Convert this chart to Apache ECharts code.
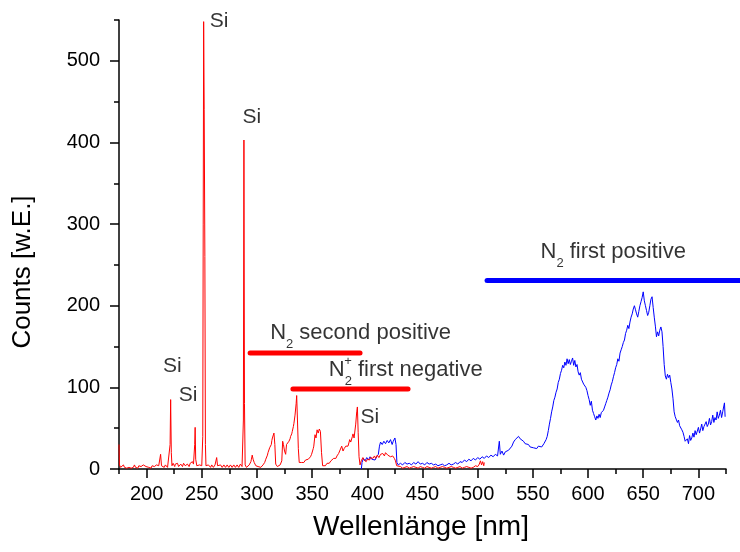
<!DOCTYPE html>
<html><head><meta charset="utf-8">
<script src="https://cdn.jsdelivr.net/npm/echarts@6/dist/echarts.min.js"></script>
<style>html,body{margin:0;padding:0;background:#fff}#c{width:740px;height:552px}</style>
</head><body><div id="c"></div>
<script>
const FONT = 'Liberation Sans, Arial, sans-serif';
const xMajorTicks = [200,250,300,350,400,450,500,550,600,650,700];
const xMinorTicks = [175,225,275,325,375,425,475,525,575,625,675,725];
const yMajorTicks = [0,100,200,300,400,500];
const yMinorTicks = [50,150,250,350,450,550];

const redSpectrum = [
[175.0,30],[175.4,5],[176.5,2],[177,4],[178,2],[179,5],[180,2],[181,4],[182,1],[183,3],[184,2],[185,4],[186,1],[187,3],[188,2],[189,5],[190,2],[191,3],[192,1],[193,4],[194,2],[195,3],[196,2],[197,5],[198.5,6],[199.5,3],[200,2],[201,4],[202,2],[203,3],[204,1],[205,4],[206,2],[207,3],[208,2],[209,5],[210,3],[211,4],[211.8,5],[212.7,18],[213.5,4],[214.5,2],[215,4],[216,2],[217,5],[218,3],[219,2],[220,4],[220.5,3],[221.3,30],[221.8,85],[222.4,20],[223,4],[224,7],[224.5,5],[225.5,3],[226,6],[227,4],[228,7],[229,3],[229.5,5],[230.5,3],[231,6],[232,4],[232.5,3],[233.5,7],[234,8],[235,4],[235.5,6],[236.5,3],[237,6],[238,4],[238.5,3],[239.5,7],[240,5],[241,7],[241.5,9],[242.5,6],[243.6,30],[244,51],[244.5,12],[245.5,4],[246.5,6],[247,3],[248,5],[248.5,4],[249.5,6],[250,4],[250.9,40],[251.3,300],[251.7,548],[252.2,440],[252.8,260],[253.3,30],[253.8,4],[254.5,6],[255,3],[256,5],[256.5,6],[257.5,3],[258,2],[259,5],[259.5,4],[260.5,2],[261,3],[262,5],[262.5,5],[263.5,14],[264.3,4],[265,2],[266,3],[267,5],[267.5,4],[268.5,2],[269,3],[270,5],[270.5,4],[271.5,2],[272,3],[273,5],[273.5,4],[274.5,2],[275,3],[276,5],[276.5,4],[277.5,2],[278,3],[279,5],[279.5,4],[280.5,2],[281,3],[282,5],[282.5,4],[283.5,2],[284,3],[285,6],[285.5,4],[286.5,3],[287,4],[287.7,60],[288.2,403],[288.7,80],[289.3,5],[290,3],[290.5,2],[291.5,4],[292,3],[293,5],[293.5,6],[294.5,9],[295,12],[295.7,17],[296.5,12],[297.5,8],[298,7],[299,4],[299.5,3],[300.5,2],[301,3],[302,2],[302.5,4],[303.5,2],[304,3],[305,4],[305.5,5],[306.5,7],[307,8],[308,12],[308.5,14],[309.5,17],[310,20],[311,22],[311.5,26],[312.5,28],[313,30],[313.5,35],[314,38],[315,40],[315.4,44],[316.2,30],[317,6],[318,4],[318.5,3],[319.5,2],[320,4],[321,5],[321.5,6],[322.5,10],[323.3,34],[324,30],[325,22],[326,18],[326.8,30],[327.8,28],[328.5,31],[329,34],[330,37],[330.5,40],[331.5,43],[332,46],[333,52],[333.5,56],[334.5,66],[335.5,80],[336,90],[336.7,60],[337.5,25],[338.3,8],[339,7],[339.5,6],[340.5,8],[341,9],[342,7],[342.5,8],[343.5,10],[344,11],[345,9],[345.5,10],[346.5,12],[347,13],[348,14],[348.5,15],[349.5,18],[350,20],[351,25],[351.5,28],[352.6,42],[353.5,38],[354.5,48],[355.5,44],[356.5,49],[357.5,46],[358.5,20],[359.5,4],[360.5,5],[361,6],[362,4],[362.5,5],[363.5,7],[364,8],[365,6],[365.5,7],[366.5,9],[367,10],[368,12],[368.5,11],[369.5,13],[370,14],[371,12],[371.5,13],[372.5,16],[373,17],[374,19],[374.5,20],[375.5,18],[376.8,28],[378,22],[379,25],[379.5,24],[380.5,28],[381,30],[382,27],[382.5,28],[383.5,33],[384,36],[385,33],[385.5,34],[386.5,40],[387,43],[388,38],[388.5,40],[389.5,55],[390.4,70],[391,76],[391.7,45],[392.5,15],[393.4,5],[394.5,10],[395.5,12],[396,14],[397,11],[397.5,12],[398.5,10],[399,9],[400,12],[400.5,13],[401.5,10],[402,11],[403,14],[403.5,15],[404.5,12],[405,13],[406,15],[406.5,16],[407.5,13],[408,14],[409,17],[409.5,18],[410.5,14],[411,15],[412,18],[412.5,17],[413.5,20],[414,19],[415,17],[415.5,16],[416.5,20],[417,21],[418,18],[418.5,17],[419.5,19],[420,18],[421,15],[421.5,14],[422.5,17],[423,16],[424,14],[424.5,13],[425.5,10],[426.6,4],[428,2],[430,3],[432,1],[434,2],[436,3],[438,1],[440,2],[442,3],[444,2],[446,1],[448,3],[450,2],[452,1],[454,3],[456,2],[458,1],[460,2],[462,3],[464,1],[466,2],[468,3],[470,2],[472,1],[474,2],[476,3],[478,2],[480,1],[482,2],[484,3],[486,1],[488,2],[490,3],[492,2],[494,1],[496,2],[498,4],[500,3],[501.5,6],[502.5,10],[503.5,5],[504.5,9],[505.5,4],[506,8]
];

const blueSpectrum = [
[394.6,0],[395.2,8],[396.5,13],[398,10],[399.5,14],[401,11],[402.5,15],[404,12],[405.5,14],[407,11],[408.5,15],[410,18],[411,28],[412,33],[413.5,30],[415,34],[416.5,31],[418,35],[419.5,32],[421,36],[422.5,30],[423.5,34],[425,38],[426,30],[426.8,8],[428,5],[430,7],[432,5],[434,8],[436,6],[438,7],[440,5],[442,8],[444,6],[446,9],[448,6],[450,7],[452,5],[454,8],[456,6],[458,7],[460,5],[462,6],[464,4],[466,5],[468,6],[470,4],[472,5],[474,7],[476,5],[478,6],[480,8],[482,6],[484,9],[486,8],[488,11],[490,9],[492,12],[494,10],[496,13],[498,11],[500,14],[502,12],[504,15],[506,13],[508,16],[510,14],[512,17],[514,15],[516,18],[518,16],[519.6,34],[520.5,18],[522,22],[523.5,17],[525,21],[526.5,19],[528,23],[529.5,22],[531,28],[532.5,33],[534,36],[535.5,38],[537,40],[538.5,37],[540,36],[541.5,34],[543,31],[544.5,29],[546,30],[547.5,27],[549,28],[550.5,26],[552,27],[553.5,25],[555,28],[556.5,26],[558,27],
[559,28],[560,31],[561,30],[562,36],[563,40],[564,47],[565,55],[566,62],[567,70],[568,76],[569,84],[570,88],[571,94],[572,98],[573,106],[574,110],[575,117],[576,121],[577,127],[578,124],[579,131],[580,127],[581,135],[582,129],[583,134],[584,128],[585,132],[586,136],[587,127],[588,133],[589,125],[590,128],[591,119],[592,115],[593,118],[594,110],[595,112],[596,104],[597,106],[598,100],[599,96],[600,90],[601,85],[602,78],[603,83],[604,72],[605,68],[606,64],[607,60],[608,65],[609,62],[610,67],[611,63],[612,69],[613,67],[614,72],[615,76],[616,80],[617,84],[618,88],[619,93],[620,97],[621,103],[622,107],[623,113],[624,118],[625,124],[626,128],[627,135],[628,132],[629,142],[630,146],[631,150],[632,155],[633,158],[634,166],[635,170],[636,176],[637,172],[638,180],[639,186],[640,190],[641,196],[642,200],[643,195],[644,190],[645,186],[646,193],[647,200],[648,205],[649,210],[650,217],[651,206],[652,200],[653,194],[654,188],[655,192],[656,200],[657,208],[658,211],[659,198],[660,186],[661,175],[662,162],[663,168],[664,163],[665,170],[666,174],[667,168],[668,150],[669,128],[670,114],[671,110],[672,116],[673,112],[674,115],[675,106],[676,98],[677,86],[678,70],[679,64],[680,62],[681,57],[682,60],[683,53],[684,55],[685,48],[686,45],[687,40],[688,34],[689,32],[690,37],[691,31],[692,41],[693,35],[694,38],[695,44],[696,39],[697,47],[698,42],[699,44],[700,51],[701,44],[702,49],[703,55],[704,47],[705,52],[706,50],[707,58],[708,52],[709,55],[710,62],[711,54],[712,58],[713,66],[714,57],[715,63],[716,60],[717,70],[718,62],[719,66],[720,72],[721,63],[722,70],[723,68],[723.6,81],[724.2,64]
];

// band marker lines [start, end] in data units
const bandSecondPositive = [[293.8,142],[393.4,142]];
const bandFirstNegative = [[332.6,98],[436.9,98]];
const bandFirstPositive = [[508.5,231],[737.6,231]];

// "Si" line labels: [x, y] = left edge / vertical middle of the text
const siLabels = [[256.7,548],[286.4,431],[214.5,126],[228.7,91],[393.4,64]];

// band labels: [x, y] = top-left of the text box
const bandLabels = [
  {pos:[312.4,180], tail:' second positive'},
  {pos:[365.5,134], tail:' first negative'},
  {pos:[557.4,279], tail:' first positive'}
];
const plusLabel = [382.5,131.7];

const chart = echarts.init(document.getElementById('c'), null, {renderer:'canvas'});

const tickStyle = {color:'#000', width:1.5};
const richStyles = {
  a: {fontSize:22, fontFamily:FONT, color:'#000', lineHeight:23, verticalAlign:'top'},
  sub: {fontSize:13, fontFamily:FONT, color:'#000', lineHeight:13, padding:[16,0,0,0], verticalAlign:'top'}
};
const hiddenAxis = {show:false, type:'value'};

const option = {
  animation:false,
  grid:[
    {left:119, right:14, top:20, bottom:83, containLabel:false},
    {left:119, right:0, top:20, bottom:83, containLabel:false}
  ],
  xAxis:[
    {type:'value', gridIndex:0, min:175, max:725, position:'bottom',
     axisLine:{onZero:false, lineStyle:tickStyle},
     axisTick:{customValues:xMajorTicks, length:9, lineStyle:tickStyle},
     axisLabel:{customValues:xMajorTicks, color:'#000', fontSize:20, fontFamily:FONT, margin:15},
     splitLine:{show:false}},
    {type:'value', gridIndex:0, min:175, max:725, position:'bottom',
     axisLine:{show:false, onZero:false},
     axisTick:{customValues:xMinorTicks, length:5, lineStyle:tickStyle},
     axisLabel:{show:false}, splitLine:{show:false}},
    // wider copy of the x scale (same px per nm) so the band bar may run past the axis end
    Object.assign({}, hiddenAxis, {gridIndex:1, min:175, max:175 + 621 * 550 / 607})
  ],
  yAxis:[
    {type:'value', gridIndex:0, min:0, max:550, position:'left',
     axisLine:{show:true, onZero:false, lineStyle:tickStyle},
     axisTick:{show:true, customValues:yMajorTicks, length:9, lineStyle:tickStyle},
     axisLabel:{customValues:yMajorTicks, color:'#000', fontSize:20, fontFamily:FONT, margin:19},
     splitLine:{show:false}},
    {type:'value', gridIndex:0, min:0, max:550, position:'left',
     axisLine:{show:false, onZero:false},
     axisTick:{show:true, customValues:yMinorTicks, length:5, lineStyle:tickStyle},
     axisLabel:{show:false}, splitLine:{show:false}},
    Object.assign({}, hiddenAxis, {gridIndex:1, min:0, max:550})
  ],
  graphic:[
    {type:'text', x:23, y:272, rotation:Math.PI/2,
     style:{text:'Counts [w.E.]', fill:'#000', font:'26px '+FONT, textAlign:'center', textVerticalAlign:'middle'}},
    {type:'text', x:421, y:527,
     style:{text:'Wellenlänge [nm]', fill:'#000', font:'28px '+FONT, textAlign:'center', textVerticalAlign:'middle'}}
  ],
  series:[
    {type:'line', name:'blue', data:blueSpectrum, showSymbol:false, symbol:'none', silent:true,
     lineStyle:{color:'#0000ff', width:1}, itemStyle:{color:'#0000ff'}},
    {type:'line', name:'red', data:redSpectrum, showSymbol:false, symbol:'none', silent:true,
     lineStyle:{color:'#ff0000', width:1}, itemStyle:{color:'#ff0000'}},
    {type:'line', data:bandSecondPositive, symbol:'none', silent:true, clip:false,
     lineStyle:{color:'#ff0000', width:5, cap:'round'}},
    {type:'line', data:bandFirstNegative, symbol:'none', silent:true, clip:false,
     lineStyle:{color:'#ff0000', width:5, cap:'round'}},
    {type:'line', data:bandFirstPositive, symbol:'none', silent:true, clip:false,
     xAxisIndex:2, yAxisIndex:2,
     lineStyle:{color:'#0000ff', width:5, cap:'round'}},
    {type:'scatter', silent:true, clip:false, symbolSize:1, itemStyle:{color:'rgba(0,0,0,0)'},
     data:siLabels.map(p=>({value:p})),
     label:{show:true, position:'right', distance:0, formatter:'Si', color:'#000', fontSize:21, fontFamily:FONT}},
    {type:'scatter', silent:true, clip:false, symbolSize:1, itemStyle:{color:'rgba(0,0,0,0)'},
     data:bandLabels.map(b=>({value:b.pos,
       label:{show:true, position:[0,0], align:'left', verticalAlign:'top',
              formatter:'{a|N}{sub|2}{a|'+b.tail+'}', rich:richStyles}}))},
    {type:'scatter', silent:true, clip:false, symbolSize:1, itemStyle:{color:'rgba(0,0,0,0)'},
     data:[{value:plusLabel}],
     label:{show:true, position:'inside', formatter:'+', color:'#000', fontSize:13, fontFamily:FONT}}
  ]
};
chart.setOption(option);
</script>
</body></html>
